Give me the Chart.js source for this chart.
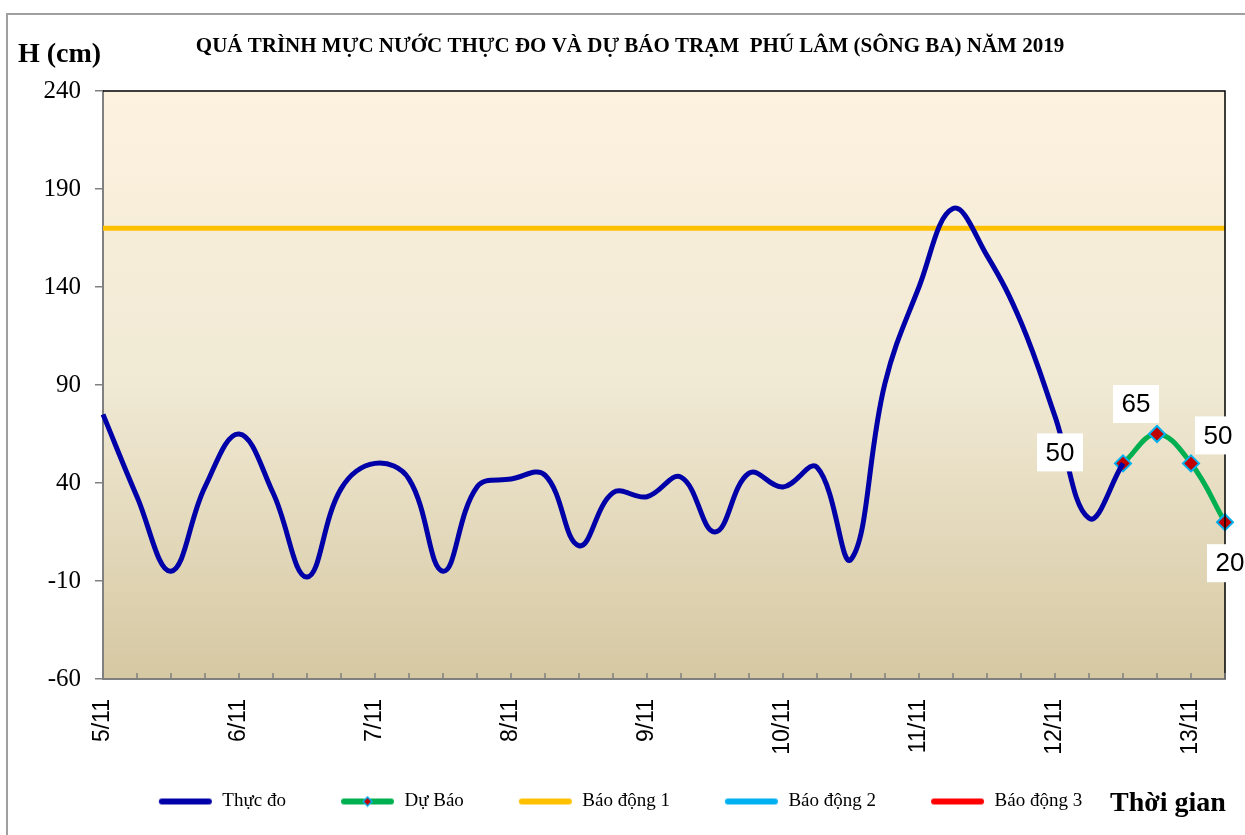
<!DOCTYPE html>
<html>
<head>
<meta charset="utf-8">
<script src="https://cdn.jsdelivr.net/npm/chart.js@4/dist/chart.umd.min.js"></script>
<style>
  html, body { margin: 0; padding: 0; background: #ffffff; }
  #wrap { width: 1245px; height: 835px; position: relative; }
</style>
</head>
<body>
<div id="wrap"><canvas id="mucNuocChart" width="1245" height="835"></canvas></div>
<script>
// 6-hourly steps from 5/11 00h to 13/11 06h
const days = ['5/11', '6/11', '7/11', '8/11', '9/11', '10/11', '11/11', '12/11', '13/11'];
const labels = [];
days.forEach((d, i) => {
    const steps = i < days.length - 1 ? 4 : 2;
    for (let k = 0; k < steps; k++) labels.push(k === 0 ? d : '');
});

const thucDo = [75, 33, -5, 38, 65, 35, -8, 37, 50, 42, -5,
    38, 42, 44, 8, 35, 33, 43, 15, 45, 38, 48, 1, 91, 140, 180, 156, 122, 74, 22, 50,
    null, null, null];
const duBao = [null, null, null, null, null, null, null, null, null, null, null,
    null, null, null, null, null, null, null, null, null, null, null, null, null, null, null, null, null, null, null,
    50, 65, 50, 20];
const baoDong1 = labels.map(() => 170);
const baoDong2 = labels.map(() => 270);
const baoDong3 = labels.map(() => 370);
const yTicks = [-60, -10, 40, 90, 140, 190, 240];

// label offsets for the forecast values (px from the point)
const labelOffsets = { 30: [-63, -11], 31: [-21, -30], 32: [27, -28], 33: [5, 41] };

// legend swatch: empty space on the left, line right next to the text
function legendIcon(color, diamond) {
    const c = document.createElement('canvas');
    c.width = 70; c.height = 12;
    const g = c.getContext('2d');
    g.strokeStyle = color;
    g.lineWidth = 6;
    g.lineCap = 'round';
    g.beginPath(); g.moveTo(19, 6); g.lineTo(66, 6); g.stroke();
    if (diamond) {
        g.fillStyle = '#c00000';
        g.strokeStyle = '#00b0f0';
        g.lineWidth = 1.5;
        g.beginPath(); g.moveTo(42.5, 1.5); g.lineTo(47, 6); g.lineTo(42.5, 10.5); g.lineTo(38, 6); g.closePath();
        g.fill(); g.stroke();
    }
    return c;
}
const icons = [legendIcon('#0000a8'), legendIcon('#00b050', true), legendIcon('#ffc000'), legendIcon('#00b0f0'), legendIcon('#ff0000')];

const decorPlugin = {
    id: 'decor',
    beforeDraw(chart) {
        const { ctx, chartArea: a } = chart;
        ctx.save();
        // outer frame
        ctx.strokeStyle = '#a0a0a0';
        ctx.lineWidth = 2;
        ctx.beginPath();
        ctx.moveTo(7, 900); ctx.lineTo(7, 14); ctx.lineTo(1300, 14);
        ctx.stroke();
        // plot background gradient
        const grad = ctx.createLinearGradient(0, a.top, 0, a.bottom);
        grad.addColorStop(0, '#fdf2df');
        grad.addColorStop(0.5, '#f0e9d4');
        grad.addColorStop(1, '#d6c8a2');
        ctx.fillStyle = grad;
        ctx.fillRect(a.left, a.top, a.right - a.left, a.bottom - a.top);
        ctx.restore();
    },
    afterDatasetsDraw(chart) {
        const { ctx, chartArea: a } = chart;
        ctx.save();
        // top & right border of the plot
        ctx.strokeStyle = '#000000';
        ctx.lineWidth = 1.5;
        ctx.beginPath();
        ctx.moveTo(a.left, a.top); ctx.lineTo(a.right, a.top); ctx.lineTo(a.right, a.bottom);
        ctx.stroke();
        // inner category tick marks on x axis
        const xs = chart.scales.x;
        ctx.strokeStyle = '#808080';
        ctx.lineWidth = 1.5;
        for (let i = 0; i < labels.length; i++) {
            const px = xs.getPixelForValue(i);
            ctx.beginPath(); ctx.moveTo(px, a.bottom); ctx.lineTo(px, a.bottom - 6); ctx.stroke();
        }
        // value labels on forecast
        const meta = chart.getDatasetMeta(1);
        ctx.font = '26px "Liberation Sans", Arial, sans-serif';
        ctx.textAlign = 'center';
        ctx.textBaseline = 'middle';
        Object.keys(labelOffsets).forEach(k => {
            const i = Number(k);
            const pt = meta.data[i];
            const [dx, dy] = labelOffsets[k];
            const cx = pt.x + dx, cy = pt.y + dy;
            ctx.fillStyle = '#ffffff';
            ctx.fillRect(cx - 23, cy - 19, 46, 38);
            ctx.fillStyle = '#000000';
            ctx.fillText(String(duBao[i]), cx, cy + 1);
        });
        ctx.restore();
    },
    afterDraw(chart) {
        const { ctx } = chart;
        ctx.save();
        ctx.fillStyle = '#000000';
        ctx.textBaseline = 'alphabetic';
        ctx.textAlign = 'left';
        ctx.font = 'bold 28px "Liberation Serif", "Times New Roman", serif';
        ctx.fillText('H (cm)', 18, 62);
        ctx.fillText('Thời gian', 1110, 811);
        ctx.textAlign = 'center';
        ctx.font = 'bold 21px "Liberation Serif", "Times New Roman", serif';
        ctx.fillText('QUÁ TRÌNH MỰC NƯỚC THỰC ĐO VÀ DỰ BÁO TRẠM  PHÚ LÂM (SÔNG BA) NĂM 2019', 630, 52);
        ctx.restore();
    }
};

const ctx = document.getElementById('mucNuocChart').getContext('2d');
new Chart(ctx, {
    type: 'line',
    data: {
        labels: labels,
        datasets: [{
            label: 'Thực đo',
            data: thucDo,
            borderColor: '#0000a8',
            backgroundColor: '#0000a8',
            borderWidth: 5,
            tension: 0.4,
            pointRadius: 0,
            spanGaps: false
        }, {
            label: 'Dự Báo',
            data: duBao,
            borderColor: '#00b050',
            backgroundColor: '#c00000',
            borderWidth: 5,
            tension: 0.4,
            pointStyle: 'rectRot',
            pointRadius: 8,
            pointBackgroundColor: '#c00000',
            pointBorderColor: '#00b0f0',
            pointBorderWidth: 2
        }, {
            label: 'Báo động 1',
            data: baoDong1,
            borderColor: '#ffc000',
            borderWidth: 5,
            pointRadius: 0
        }, {
            label: 'Báo động 2',
            data: baoDong2,
            borderColor: '#00b0f0',
            borderWidth: 5,
            pointRadius: 0
        }, {
            label: 'Báo động 3',
            data: baoDong3,
            borderColor: '#ff0000',
            borderWidth: 5,
            pointRadius: 0
        }]
    },
    options: {
        responsive: false,
        animation: false,
        layout: {
            padding: { left: 0, right: 20, top: 91, bottom: 14 }
        },
        plugins: {
            title: { display: false },
            tooltip: { enabled: false },
            legend: {
                position: 'bottom',
                align: 'center',
                labels: {
                    color: '#000000',
                    font: { family: '"Liberation Serif", "Times New Roman", serif', size: 19 },
                    usePointStyle: true,
                    pointStyleWidth: 70,
                    padding: 39,
                    generateLabels(chart) {
                        return chart.data.datasets.map((ds, i) => ({
                            text: ds.label,
                            pointStyle: icons[i],
                            fillStyle: ds.borderColor,
                            strokeStyle: ds.borderColor,
                            lineWidth: 0,
                            hidden: false,
                            datasetIndex: i
                        }));
                    }
                }
            }
        },
        scales: {
            x: {
                offset: false,
                grid: { display: false, drawTicks: false },
                border: { color: '#808080', width: 2 },
                ticks: {
                    autoSkip: false,
                    maxRotation: 90,
                    minRotation: 90,
                    padding: 20,
                    color: '#000000',
                    font: { family: '"Liberation Sans", Arial, sans-serif', size: 23 }
                },
                afterFit(scale) {
                    scale.height = 74;
                    scale.paddingLeft = 0;
                    scale.paddingRight = 0;
                }
            },
            y: {
                min: -60,
                max: 240,
                afterBuildTicks(scale) { scale.ticks = yTicks.map(v => ({ value: v })); },
                grid: { drawOnChartArea: false, drawTicks: true, tickLength: 8, color: '#808080', lineWidth: 1.5 },
                border: { color: '#808080', width: 2 },
                ticks: {
                    padding: 14,
                    color: '#000000',
                    font: { family: '"Liberation Serif", "Times New Roman", serif', size: 25 }
                },
                afterFit(scale) {
                    scale.width = 103;
                    scale.paddingTop = 0;
                    scale.paddingBottom = 0;
                }
            }
        }
    },
    plugins: [decorPlugin]
});
</script>
</body>
</html>
